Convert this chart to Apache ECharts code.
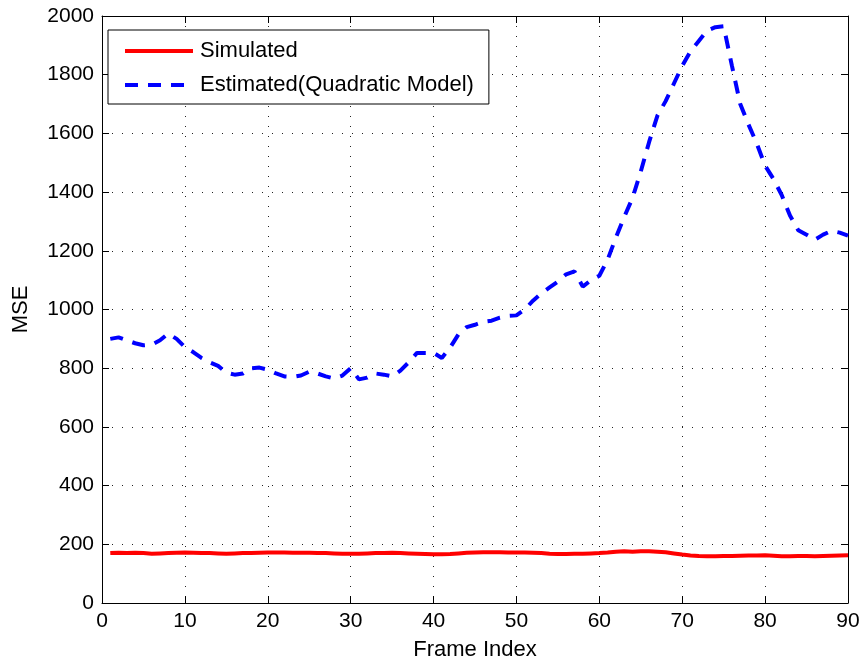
<!DOCTYPE html>
<html>
<head>
<meta charset="utf-8">
<script src="https://cdn.jsdelivr.net/npm/echarts@6/dist/echarts.min.js"></script>
<style>html,body{margin:0;padding:0;background:#fff}#c{width:866px;height:666px}</style>
</head>
<body>
<div id="c"></div>
<script>
var frames = [1,2,3,4,5,6,7,8,9,10,11,12,13,14,15,16,17,18,19,20,21,22,23,24,25,26,27,28,29,30,31,32,33,34,35,36,37,38,39,40,41,42,43,44,45,46,47,48,49,50,51,52,53,54,55,56,57,58,59,60,61,62,63,64,65,66,67,68,69,70,71,72,73,74,75,76,77,78,79,80,81,82,83,84,85,86,87,88,89,90];
var simulated = [170,171,170,171,170,168,169,170,171,172,171,170,170,169,168,169,170,170,171,172,172,172,171,171,171,170,170,169,168,168,168,169,170,170,171,170,169,168,167,166,166,167,169,171,172,173,173,173,172,172,172,171,170,168,167,167,168,168,169,170,172,175,176,175,176,176,175,173,169,165,162,160,159,159,160,160,161,162,162,163,161,159,159,160,160,159,160,161,162,163];
var estimated = [900,905,895,885,878,880,895,918,900,872,855,835,820,808,785,778,782,800,802,795,782,772,770,775,788,782,772,765,775,800,762,768,782,778,772,792,820,852,852,852,835,870,915,940,948,958,962,972,978,980,1000,1030,1055,1075,1095,1120,1130,1078,1100,1115,1170,1245,1315,1380,1470,1570,1660,1710,1770,1830,1880,1915,1950,1962,1965,1830,1700,1630,1565,1490,1445,1390,1320,1270,1255,1238,1255,1268,1262,1252];
var seriesNames = ['Simulated', 'Estimated(Quadratic Model)'];

function pairs(xs, ys) { return xs.map(function (x, i) { return [x, ys[i]]; }); }

var FONT = 'Liberation Sans';
var FS = 21;
var chart = echarts.init(document.getElementById('c'));
var tickStyle = { show: true, inside: true, length: 7, lineStyle: { color: '#000', width: 1 } };
var gridLine = { show: true, lineStyle: { color: '#222', width: 1, type: [1, 9] } };
chart.setOption({
  animation: false,
  backgroundColor: '#fff',
  grid: { left: 102, right: 18, top: 16, bottom: 61, show: false },
  legend: {
    left: 108, top: 30, orient: 'vertical',
    data: seriesNames,
    itemWidth: 68, itemHeight: 20, itemGap: 12,
    padding: [10, 15, 8, 15],
    borderColor: '#000', borderWidth: 1, backgroundColor: '#fff', borderRadius: 0,
    itemStyle: { opacity: 0 },
    lineStyle: { width: 4 },
    textStyle: { fontFamily: FONT, fontSize: 22, color: '#000', padding: [0, 0, 0, 2] }
  },
  xAxis: [{
    type: 'value', min: 0, max: 90, interval: 10, position: 'bottom',
    name: 'Frame Index', nameLocation: 'middle', nameGap: 36,
    nameTextStyle: { fontFamily: FONT, fontSize: 22, color: '#000' },
    axisLine: { show: true, onZero: false, lineStyle: { color: '#000', width: 1 } },
    axisTick: tickStyle,
    axisLabel: { fontFamily: FONT, fontSize: FS, color: '#000', margin: 8 },
    splitLine: gridLine
  }, {
    type: 'value', min: 0, max: 90, interval: 10, position: 'top',
    axisLine: { show: true, onZero: false, lineStyle: { color: '#000', width: 1 } },
    axisTick: tickStyle, axisLabel: { show: false }, splitLine: { show: false }
  }],
  yAxis: [{
    type: 'value', min: 0, max: 2000, interval: 200, position: 'left',
    name: 'MSE', nameLocation: 'middle', nameGap: 70,
    nameTextStyle: { fontFamily: FONT, fontSize: 22, color: '#000' },
    axisLine: { show: true, onZero: false, lineStyle: { color: '#000', width: 1 } },
    axisTick: tickStyle,
    axisLabel: { fontFamily: FONT, fontSize: FS, color: '#000', margin: 8, formatter: function (v) { return String(v); } },
    splitLine: gridLine
  }, {
    type: 'value', min: 0, max: 2000, interval: 200, position: 'right',
    axisLine: { show: true, onZero: false, lineStyle: { color: '#000', width: 1 } },
    axisTick: tickStyle, axisLabel: { show: false }, splitLine: { show: false }
  }],
  series: [{
    name: seriesNames[0], type: 'line', showSymbol: false, symbol: 'none',
    data: pairs(frames, simulated),
    lineStyle: { color: '#ff0000', width: 4 }, itemStyle: { color: '#ff0000' },
    z: 3
  }, {
    name: seriesNames[1], type: 'line', showSymbol: false, symbol: 'none',
    data: pairs(frames, estimated),
    lineStyle: { color: '#0000ff', width: 4, type: [13, 10] }, itemStyle: { color: '#0000ff' },
    z: 2
  }]
});
</script>
</body>
</html>
